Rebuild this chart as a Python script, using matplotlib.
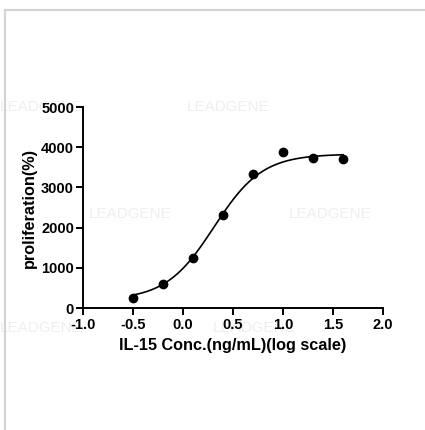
import numpy as np
import matplotlib
matplotlib.use("Agg")
import matplotlib.pyplot as plt
from matplotlib.lines import Line2D

# Data (log10 concentration, proliferation %)
log_conc = [-0.5, -0.2, 0.1, 0.4, 0.7, 1.0, 1.3, 1.6]
proliferation = [250, 600, 1240, 2320, 3330, 3870, 3720, 3710]

# 4-parameter logistic fit parameters
fit_bottom = 200
fit_top = 3830
fit_logec50 = 0.31
fit_hill = 1.8

x_ticks = [-1.0, -0.5, 0.0, 0.5, 1.0, 1.5, 2.0]
y_ticks = [0, 1000, 2000, 3000, 4000, 5000]
x_ticklabels = ['-1.0', '-0.5', '0.0', '0.5', '1.0', '1.5', '2.0']
y_ticklabels = ['0', '1000', '2000', '3000', '4000', '5000']

plt.rcParams['font.family'] = ['Liberation Sans', 'DejaVu Sans']

fig = plt.figure(figsize=(4.25, 4.30), dpi=100)
fig.patch.set_facecolor('white')

# faint watermarks (behind everything)
wm_color = '#efefef'
wm_pos = [(0.0, 0.751), (0.44, 0.751),
          (0.21, 0.503), (0.68, 0.503),
          (0.0, 0.238), (0.50, 0.238)]
for (wx, wy) in wm_pos:
    fig.text(wx, wy, 'LEADGENE', color=wm_color, fontsize=11, ha='left',
             va='center', zorder=-5)

ax = fig.add_axes([0.1953, 0.2837, 0.7059, 0.4674])
ax.set_facecolor('none')
ax.set_zorder(2)

xs = np.linspace(-0.5, 1.6, 300)
ys = fit_bottom + (fit_top - fit_bottom) / (1 + 10 ** ((fit_logec50 - xs) * fit_hill))
ax.plot(xs, ys, color='black', lw=1.2, zorder=3)
ax.plot(log_conc, proliferation, 'o', color='black', ms=6, zorder=4, clip_on=False)

ax.set_xlim(-1.0, 2.0)
ax.set_ylim(0, 5000)
ax.set_xticks(x_ticks)
ax.set_xticklabels(x_ticklabels, fontsize=10.5, fontweight='bold')
ax.set_yticks(y_ticks)
ax.set_yticklabels(y_ticklabels, fontsize=10.5, fontweight='bold')

for s in ['top', 'right']:
    ax.spines[s].set_visible(False)
for s in ['left', 'bottom']:
    ax.spines[s].set_linewidth(1.4)
ax.tick_params(axis='both', direction='out', length=5, width=1.4, pad=1.5)
ax.tick_params(axis='x', pad=2.5)

ax.set_xlabel('IL-15 Conc.(ng/mL)(log scale)', fontsize=11.7, fontweight='bold',
              labelpad=4)
ax.set_ylabel('proliferation(%)', fontsize=11.7, fontweight='bold', labelpad=3)

# light frame lines (top and left)
fig.add_artist(Line2D([0.0106, 1.0], [0.9756, 0.9756], color='#d4d4d4', lw=1.6,
                      transform=fig.transFigure))
fig.add_artist(Line2D([0.0106, 0.0106], [0.0, 0.9756], color='#d4d4d4', lw=1.6,
                      transform=fig.transFigure))

fig.savefig('out.png', dpi=100, facecolor='white')
